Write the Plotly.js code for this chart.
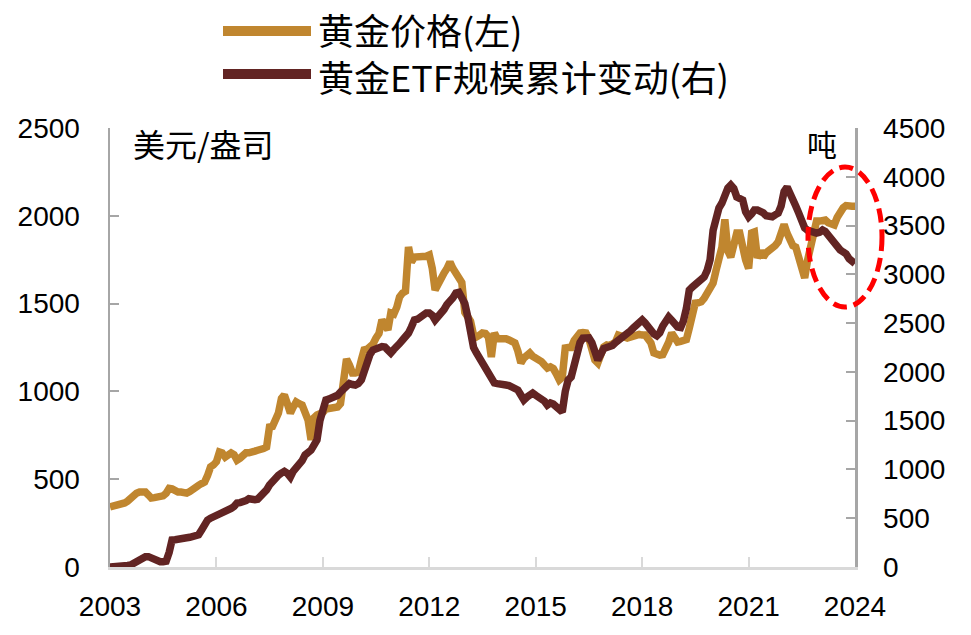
<!DOCTYPE html>
<html>
<head>
<meta charset="utf-8">
<script src="https://cdn.plot.ly/plotly-3.0.1.min.js"></script>
<style>
html,body{margin:0;padding:0;background:#fff;}
#chart{width:971px;height:635px;}
</style>
</head>
<body>
<div id="chart"></div>
<script>
// ---- data (monthly, Jan 2003 – Jan 2024) ----
var startYear = 2003;
var goldPrice = [
 342,345,350,355,355,365,375,393,405,420,427,427,
 427,410,393,395,398,399,405,420,448,445,430,427,
 427,424,421,430,445,456,465,475,484,520,570,581,
 600,655,650,626,640,650,640,609,620,640,650,650,
 650,660,665,666,675,683,797,800,850,877,960,980,
 930,877,910,940,930,922,880,837,723,850,866,870,
 880,900,905,900,905,911,930,1065,1184,1150,1105,1105,
 1110,1180,1236,1240,1250,1270,1304,1330,1407,1380,1350,1446,
 1440,1480,1538,1560,1570,1822,1737,1765,1765,1770,1765,1770,
 1777,1700,1577,1617,1640,1674,1700,1737,1700,1674,1651,1620,
 1450,1420,1400,1320,1310,1320,1333,1330,1310,1196,1333,1300,
 1300,1310,1300,1293,1290,1276,1230,1162,1190,1207,1219,1200,
 1190,1185,1170,1150,1133,1140,1130,1100,1065,1080,1247,1250,
 1250,1290,1321,1333,1335,1333,1300,1240,1179,1162,1220,1253,
 1264,1260,1270,1281,1321,1320,1310,1304,1310,1315,1320,1325,
 1321,1321,1300,1276,1219,1207,1207,1210,1236,1280,1333,1310,
 1281,1285,1290,1295,1360,1446,1503,1505,1510,1530,1560,1595,
 1617,1691,1760,1822,1980,1800,1765,1860,1902,1902,1800,1748,
 1700,1902,1908,1760,1800,1765,1790,1800,1822,1830,1851,1900,
 1950,1900,1862,1830,1822,1760,1700,1646,1750,1840,1930,1970,
 1970,1972,1976,1960,1955,1948,1990,2030,2045,2058,2061,2055,
 2055
];
var etfTonnes = [
 0,0,5,5,8,10,15,20,40,60,80,100,
 105,106,90,70,55,55,55,60,150,277,280,290,
 295,300,300,305,310,315,330,380,440,480,500,513,
 520,540,560,575,585,600,620,656,660,665,680,700,
 687,690,695,720,760,790,840,880,910,940,963,980,
 960,922,980,1015,1050,1090,1148,1170,1199,1250,1302,1500,
 1640,1712,1720,1730,1743,1760,1794,1830,1866,1880,1870,1865,
 1880,1917,2000,2122,2180,2224,2240,2255,2260,2255,2230,2194,
 2230,2250,2290,2327,2360,2398,2460,2532,2540,2560,2590,2604,
 2604,2580,2532,2560,2600,2640,2690,2716,2760,2808,2815,2760,
 2700,2563,2350,2250,2194,2140,2091,2030,1960,1920,1886,1880,
 1880,1870,1866,1860,1845,1830,1814,1763,1712,1740,1760,1783,
 1760,1740,1732,1700,1660,1681,1670,1650,1620,1589,1800,1917,
 1948,2080,2224,2300,2347,2357,2350,2300,2224,2122,2180,2240,
 2250,2260,2270,2300,2320,2350,2378,2400,2420,2450,2480,2510,
 2532,2500,2460,2420,2390,2370,2400,2470,2540,2563,2530,2480,
 2460,2455,2520,2650,2839,2870,2890,2911,2950,2973,3040,3150,
 3450,3600,3680,3731,3830,3885,3916,3880,3793,3780,3762,3640,
 3588,3620,3659,3660,3650,3630,3600,3588,3590,3610,3628,3700,
 3850,3895,3840,3793,3700,3628,3550,3475,3450,3434,3425,3423,
 3430,3454,3440,3400,3352,3320,3270,3250,3229,3210,3160,3130,
 3110
];
var seriesNames = ['黄金价格(左)', '黄金ETF规模累计变动(右)'];
var leftUnit = '美元/盎司';
var rightUnit = '吨';
var xTickYears = ['2003','2006','2009','2012','2015','2018','2021','2024'];

// month dates for each value
var months = [];
for (var i = 0; i < goldPrice.length; i++) {
  var y = startYear + Math.floor(i / 12), m = (i % 12) + 1;
  months.push(y + '-' + (m < 10 ? '0' + m : m) + '-01');
}

var goldColor = '#C0862F';
var etfColor = '#622423';
var tickFont = {family: 'Liberation Sans, Arial, sans-serif', size: 28, color: '#000'};
var cjk = 'Noto Sans CJK SC, sans-serif';

var traces = [
  {x: months, y: goldPrice, type: 'scatter', mode: 'lines', name: seriesNames[0],
   line: {color: goldColor, width: 7.5}, yaxis: 'y'},
  {x: months, y: etfTonnes, type: 'scatter', mode: 'lines', name: seriesNames[1],
   line: {color: etfColor, width: 7.5}, yaxis: 'y2'}
];

// plot-area pixel helpers for legend decoration (paper coords)
var L = 110, R = 855, T = 128, B = 567;
function px(x){ return (x - L) / (R - L); }
function py(y){ return (B - y) / (B - T); }

var layout = {
  width: 971, height: 635,
  margin: {l: L, r: 971 - R, t: T, b: 635 - B},
  paper_bgcolor: '#fff', plot_bgcolor: '#fff',
  showlegend: false,
  xaxis: {
    type: 'date', range: ['2003-01-01', '2024-01-01'],
    tickvals: xTickYears.map(function(s){ return s + '-01-01'; }),
    ticktext: xTickYears,
    showgrid: false, zeroline: false,
    showline: true, linecolor: '#d9d9d9', linewidth: 3,
    ticks: 'inside', ticklen: 10, tickcolor: '#d9d9d9', tickwidth: 2,
    tickfont: tickFont, ticklabelstandoff: 12
  },
  yaxis: {
    range: [0, 2500], dtick: 500, showgrid: false, zeroline: false,
    showline: true, linecolor: '#a6a6a6', linewidth: 2.5,
    ticks: 'inside', ticklen: 9, tickcolor: '#a6a6a6', tickwidth: 2,
    tickfont: tickFont, ticklabelstandoff: 22
  },
  yaxis2: {
    range: [0, 4500], dtick: 500, overlaying: 'y', side: 'right',
    showgrid: false, zeroline: false,
    showline: true, linecolor: '#a6a6a6', linewidth: 2.5,
    ticks: 'inside', ticklen: 9, tickcolor: '#a6a6a6', tickwidth: 2,
    tickfont: tickFont, ticklabelstandoff: 20
  },
  shapes: [
    {type: 'line', xref: 'paper', yref: 'paper', x0: px(223), x1: px(311), y0: py(31), y1: py(31),
     line: {color: goldColor, width: 10}},
    {type: 'line', xref: 'paper', yref: 'paper', x0: px(223), x1: px(311), y0: py(74), y1: py(74),
     line: {color: etfColor, width: 10}},
    {type: 'circle', xref: 'paper', yref: 'paper', x0: px(808), x1: px(882), y0: py(307), y1: py(167),
     line: {color: '#FF0000', width: 5, dash: '14px,7px'}}
  ],
  annotations: [
    {xref: 'paper', yref: 'paper', x: px(316), y: py(29), xanchor: 'left', yanchor: 'middle',
     text: seriesNames[0], showarrow: false, font: {family: cjk, size: 36, color: '#000'}},
    {xref: 'paper', yref: 'paper', x: px(316), y: py(76), xanchor: 'left', yanchor: 'middle',
     text: seriesNames[1], showarrow: false, font: {family: cjk, size: 36, color: '#000'}},
    {xref: 'paper', yref: 'paper', x: px(131), y: py(143), xanchor: 'left', yanchor: 'middle',
     text: leftUnit, showarrow: false, font: {family: cjk, size: 32, color: '#000'}},
    {xref: 'paper', yref: 'paper', x: px(822), y: py(143), xanchor: 'center', yanchor: 'middle',
     text: rightUnit, showarrow: false, font: {family: cjk, size: 30, color: '#000'}}
  ]
};

Plotly.newPlot('chart', traces, layout, {displayModeBar: false, staticPlot: true});
</script>
</body>
</html>
